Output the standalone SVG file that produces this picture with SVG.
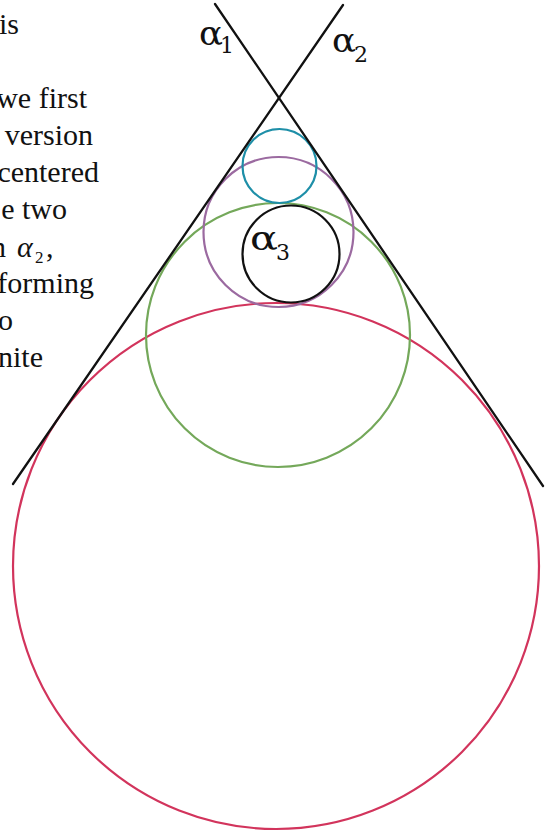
<svg xmlns="http://www.w3.org/2000/svg" width="548" height="836" viewBox="0 0 548 836">
<style>
.ln{stroke:#111;stroke-width:2.3;fill:none;stroke-linecap:round}
.c{fill:none;stroke-width:2.2}
</style>
<rect width="548" height="836" fill="#fff"/>
<g id="text" font-family="'Liberation Serif', 'Times New Roman', serif" font-size="30" fill="#111">
<text x="19" y="34" text-anchor="end">is</text>
<text x="87" y="108" text-anchor="end">we first</text>
<text x="93" y="145" text-anchor="end">version</text>
<text x="99" y="182" text-anchor="end">centered</text>
<text x="67" y="219" text-anchor="end">e two</text>
<text x="6" y="257" text-anchor="end">n</text>
<text x="17" y="257" font-style="italic">α</text>
<text x="35" y="263" font-size="17">2</text>
<text x="46" y="257">,</text>
<text x="94" y="293" text-anchor="end">forming</text>
<text x="13" y="330" text-anchor="end">o</text>
<text x="43" y="367" text-anchor="end">nite</text>
</g>
<g id="circle-red"><circle class="c" cx="276" cy="566" r="263" stroke="#d2345c"/></g>
<g id="circle-green"><circle class="c" cx="278" cy="335" r="132" stroke="#74a85a"/></g>
<g id="circle-purple"><circle class="c" cx="278.5" cy="232" r="75" stroke="#9b6aa0"/></g>
<g id="circle-blue"><circle class="c" cx="279.5" cy="166" r="37" stroke="#1e8fa8"/></g>
<g id="circle-alpha3" font-family="'DejaVu Serif', serif" fill="#111"><circle class="c" cx="291" cy="254" r="48.5" stroke="#111"/>
<text x="250" y="250" font-size="33" textLength="28" lengthAdjust="spacingAndGlyphs">α</text><text x="276" y="260" font-size="22">3</text></g>
<g id="line-alpha1" font-family="'DejaVu Serif', serif" fill="#111"><line class="ln" x1="215" y1="4" x2="543" y2="486"/>
<text x="199" y="45" font-size="33" textLength="24" lengthAdjust="spacingAndGlyphs">α</text><text x="220" y="53" font-size="22">1</text></g>
<g id="line-alpha2" font-family="'DejaVu Serif', serif" fill="#111"><line class="ln" x1="343" y1="5" x2="13" y2="484"/>
<text x="332" y="52" font-size="33" textLength="24" lengthAdjust="spacingAndGlyphs">α</text><text x="354" y="62" font-size="22">2</text></g>
</svg>
